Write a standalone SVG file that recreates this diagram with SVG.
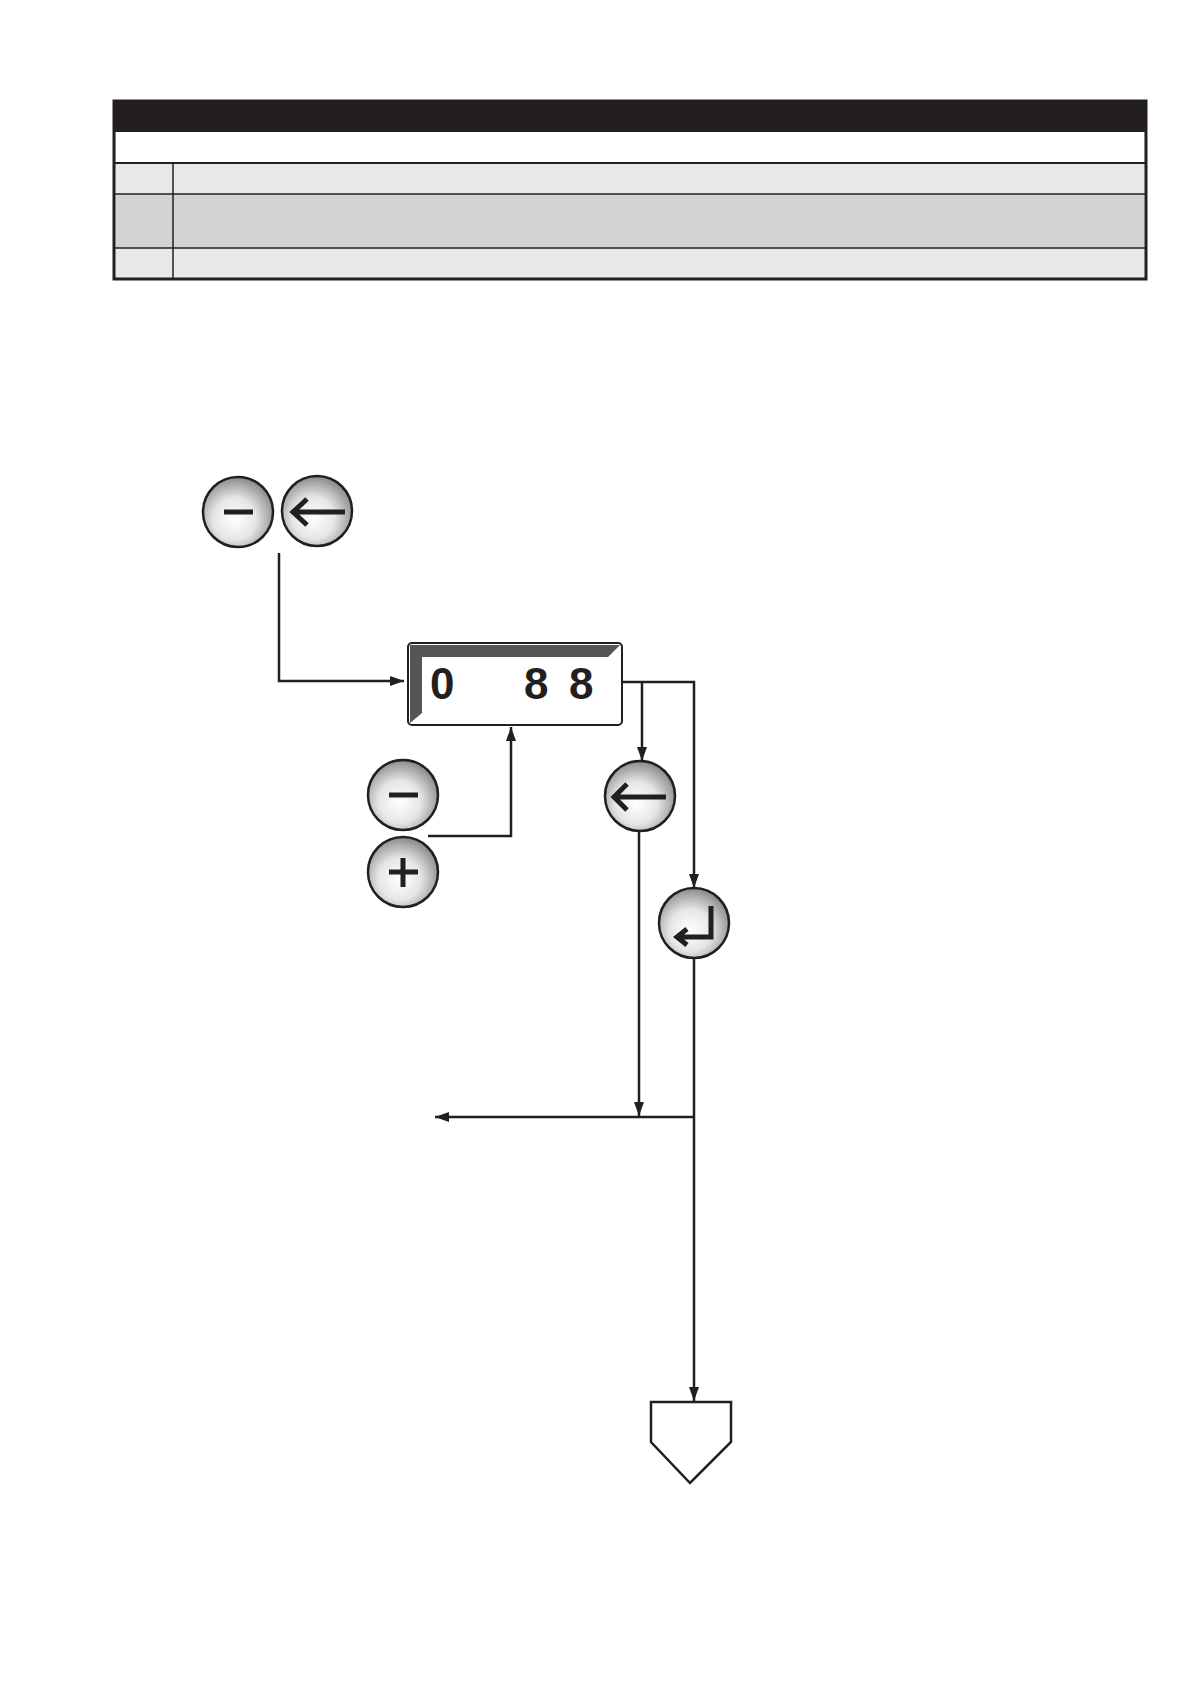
<svg xmlns="http://www.w3.org/2000/svg" width="1191" height="1684" viewBox="0 0 1191 1684">
<style>
.ln{fill:none;stroke:#231f20;stroke-width:2.5}
.btn{fill:url(#g);stroke:#231f20;stroke-width:2.5}
.sym{fill:none;stroke:#231f20;stroke-width:5}
.dig{font-family:"Liberation Sans",Arial,sans-serif;font-weight:bold;font-size:44px;fill:#231f20}
</style>
<defs>
<radialGradient id="g" cx="0.45" cy="0.6" r="0.6">
<stop offset="0" stop-color="#ffffff"/><stop offset="0.5" stop-color="#e6e6e6"/><stop offset="1" stop-color="#8a8a8a"/>
</radialGradient>
<marker id="ah" markerWidth="14" markerHeight="10" refX="14" refY="5" orient="auto" markerUnits="userSpaceOnUse" viewBox="0 0 14 10">
<path d="M0,0 L14,5 L0,10 z" fill="#231f20"/></marker>
</defs>
<rect width="1191" height="1684" fill="#fff"/>
<g id="table">
<rect x="114" y="101" width="1032" height="178" fill="#e8e8e8" stroke="#231f20" stroke-width="3"/>
<rect x="114" y="101" width="1032" height="31" fill="#231f20"/>
<rect x="116" y="132" width="1028" height="31" fill="#fff"/>
<rect x="116" y="194" width="1028" height="54" fill="#d3d3d3"/>
<line x1="114" y1="163" x2="1146" y2="163" stroke="#231f20" stroke-width="2"/>
<line x1="114" y1="194" x2="1146" y2="194" stroke="#231f20" stroke-width="1.5"/>
<line x1="114" y1="248" x2="1146" y2="248" stroke="#231f20" stroke-width="1.5"/>
<line x1="173" y1="163" x2="173" y2="279" stroke="#231f20" stroke-width="1.5"/>
</g>
<g id="btn-minus-top"><circle class="btn" cx="238" cy="512" r="35"/><line class="sym" x1="224" y1="512" x2="253" y2="512" stroke-width="9"/></g>
<g id="btn-back-top"><circle class="btn" cx="317" cy="511" r="35"/><path class="sym" d="M345,512 H293 M307,499 L293,512 L307,525" stroke-width="4"/></g>
<g id="display">
<rect x="408" y="643" width="214" height="82" rx="4" fill="#fff" stroke="#231f20" stroke-width="2"/>
<path d="M410,645 H620 L608,657 H422 V713 L410,723 Z" fill="#555"/>
<text class="dig" x="430" y="699">0</text>
<text class="dig" x="524" y="699">8</text>
<text class="dig" x="569" y="699">8</text>
</g>
<g id="btn-minus"><circle class="btn" cx="403" cy="795" r="35"/><line class="sym" x1="389" y1="795" x2="418" y2="795" stroke-width="9"/></g>
<g id="btn-plus"><circle class="btn" cx="403" cy="872" r="35"/><path class="sym" d="M389,872 H418 M403,858 V887" stroke-width="7"/></g>
<g id="btn-back"><circle class="btn" cx="640" cy="796" r="35"/><path class="sym" d="M666,797 H614 M627,784 L614,797 L627,810" stroke-width="4"/></g>
<g id="btn-enter"><circle class="btn" cx="694" cy="923" r="35"/><path class="sym" d="M711,906 V937 H677 M687,929 L677,937 L687,945" stroke-width="4"/></g>
<g id="end"><path d="M651,1402 H731 V1442 L690,1483 L651,1442 Z" fill="#fff" stroke="#231f20" stroke-width="2.5"/></g>
<g id="connectors">
<path class="ln" d="M279,553 V681 H404" marker-end="url(#ah)"/>
<path class="ln" d="M428,836 H511 V727" marker-end="url(#ah)"/>
<path class="ln" d="M622,682 H694 V888" marker-end="url(#ah)"/>
<path class="ln" d="M642,682 V761" marker-end="url(#ah)"/>
<path class="ln" d="M639,831 V1116" marker-end="url(#ah)"/>
<path class="ln" d="M694,1117 H435" marker-end="url(#ah)"/>
<path class="ln" d="M694,958 V1401" marker-end="url(#ah)"/>
</g>
</svg>
